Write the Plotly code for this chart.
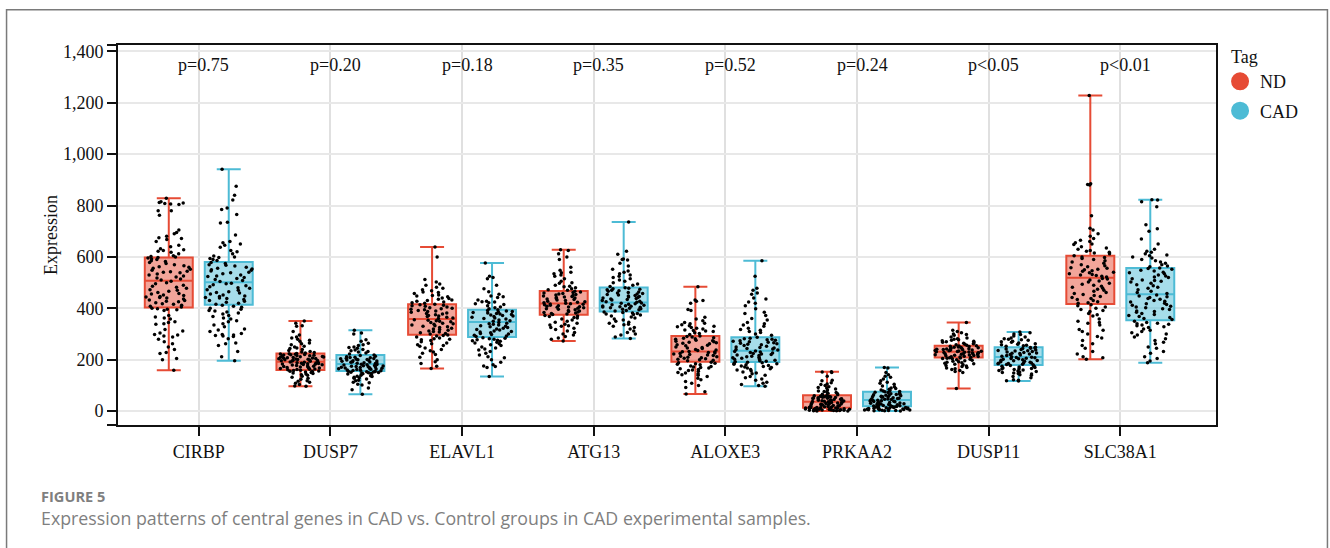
import plotly.graph_objects as go

genes = ["CIRBP", "DUSP7", "ELAVL1", "ATG13", "ALOXE3", "PRKAA2", "DUSP11", "SLC38A1"]
p_labels = ["p=0.75", "p=0.20", "p=0.18", "p=0.35", "p=0.52", "p=0.24", "p<0.05", "p<0.01"]
y_ticks = [0, 200, 400, 600, 800, 1000, 1200, 1400]

nd_low = [159, 97, 166, 273, 67, 0, 88, 202]
nd_q1 = [403, 160, 297, 375, 192, 13, 209, 417]
nd_med = [507, 192, 358, 419, 232, 36, 231, 519]
nd_q3 = [598, 224, 416, 467, 292, 62, 254, 605]
nd_high = [828, 351, 639, 628, 484, 153, 345, 1228]

cad_low = [196, 66, 135, 283, 97, 0, 117, 188]
cad_q1 = [414, 156, 288, 388, 191, 19, 179, 354]
cad_med = [501, 183, 347, 423, 235, 43, 211, 455]
cad_q3 = [580, 218, 394, 481, 287, 75, 249, 557]
cad_high = [941, 315, 576, 736, 585, 170, 308, 823]

nd_cirbp = [828, 815, 810, 808, 806, 804, 812, 780, 780, 762, 705, 695, 690, 680, 675, 672, 668, 660, 645, 640, 632, 628, 625, 622, 618, 612, 605, 602, 600,
            598, 596, 592, 590, 585, 582, 578, 574, 570, 566, 562, 560, 556, 552, 548, 544, 542, 540, 538, 534, 530, 526, 522, 518, 514, 510,
            505, 500, 496, 490, 486, 482, 478, 472, 470, 466, 462, 458, 456, 452, 450, 446, 444, 442, 440, 436, 432, 430, 428, 426, 422, 418, 416, 412, 408, 405,
            400, 398, 396, 394, 392, 372, 366, 362, 358, 348, 345, 340, 338, 318, 312, 304, 298, 296, 292, 288, 280, 270, 262, 250, 240, 228, 224, 205, 200, 159]
cad_cirbp = [941, 875, 840, 822, 790, 785, 765, 735, 732, 685, 660, 655, 650, 645, 638, 625, 620, 612, 604, 600, 598, 594, 590, 586,
             578, 574, 570, 568, 565, 560, 556, 553, 550, 548, 545, 540, 538, 535, 530, 526, 524, 520, 516, 512, 508, 504,
             498, 496, 492, 488, 484, 480, 478, 472, 470, 465, 462, 460, 456, 452, 448, 446, 442, 440, 438, 434, 430, 428, 424, 420, 416,
             412, 408, 404, 400, 396, 392, 390, 386, 382, 378, 372, 368, 362, 358, 352, 348, 340, 335, 328, 320, 316, 310, 302, 298, 296, 294, 292, 290, 282, 265, 262, 255, 232, 212, 196]
nd_dusp7 = [351, 342, 332, 330, 310, 296, 288, 285, 280, 276, 272, 265, 262, 258, 252, 250, 246, 244, 240, 236, 232, 230, 228, 226,
            224, 223, 222, 221, 220, 219, 218, 217, 216, 215, 214, 213, 212, 211, 210, 209, 208, 207, 206, 205, 204, 203, 202, 201, 200, 199, 198, 197, 196, 195, 194,
            191, 190, 189, 188, 187, 186, 185, 184, 183, 182, 181, 180, 179, 178, 176, 175, 174, 172, 171, 170, 168, 167, 166, 164, 163, 162, 161,
            159, 158, 156, 155, 154, 152, 150, 148, 146, 144, 142, 140, 136, 132, 128, 124, 118, 116, 112, 108, 104, 98, 97]
cad_dusp7 = [315, 304, 300, 278, 272, 264, 258, 255, 250, 248, 245, 240, 238, 235, 232, 230, 226, 222,
             218, 216, 214, 212, 210, 209, 208, 206, 205, 204, 202, 201, 200, 199, 198, 196, 195, 194, 192, 191, 190, 188, 187, 186, 185,
             182, 181, 180, 179, 178, 177, 176, 175, 174, 173, 172, 171, 170, 169, 168, 167, 166, 165, 164, 163, 162, 160, 159, 158, 157,
             155, 154, 153, 152, 151, 150, 149, 148, 146, 145, 144, 142, 140, 138, 136, 135, 132, 130, 128, 125, 120, 118, 112, 110, 105, 102, 90, 83, 66]
nd_elavl1 = [639, 600, 512, 502, 495, 490, 482, 478, 472, 468, 464, 462, 458, 452, 450, 448, 445, 440, 438, 435, 432, 430, 428, 425, 422, 420,
             416, 414, 412, 410, 408, 405, 402, 400, 398, 396, 394, 392, 390, 388, 385, 382, 380, 378, 375, 372, 370, 368, 365, 362, 360,
             356, 354, 352, 350, 348, 345, 342, 340, 338, 335, 332, 330, 328, 325, 322, 320, 318, 315, 312, 310, 308, 305, 302, 300,
             296, 294, 292, 288, 285, 282, 280, 278, 275, 270, 265, 262, 258, 255, 252, 246, 240, 235, 230, 225, 220, 210, 200, 192, 185, 175, 166]
cad_elavl1 = [576, 525, 520, 515, 490, 476, 465, 455, 448, 445, 442, 432, 428, 426, 425, 422, 418, 415, 410, 405, 402, 398,
              394, 392, 390, 388, 386, 384, 382, 380, 378, 376, 374, 372, 370, 368, 365, 362, 360, 358, 355, 352, 350,
              345, 342, 340, 338, 335, 332, 330, 328, 325, 322, 320, 318, 316, 312, 310, 308, 305, 302, 300, 298, 295, 292, 290,
              286, 284, 282, 280, 278, 276, 274, 272, 268, 265, 262, 258, 255, 250, 246, 242, 238, 232, 225, 218, 212, 208, 200, 190, 180, 176, 174, 170, 135]
nd_atg13 = [628, 625, 612, 600, 590, 560, 548, 540, 538, 535, 530, 525, 515, 505, 500, 498, 490, 486, 484, 480, 476, 472, 470,
            466, 464, 462, 460, 458, 456, 454, 452, 450, 448, 446, 444, 442, 440, 438, 436, 434, 432, 430, 428, 426, 424, 422, 420,
            418, 417, 416, 414, 412, 410, 408, 406, 405, 404, 402, 400, 398, 396, 394, 392, 390, 388, 386, 384, 382, 380, 378, 376,
            372, 370, 368, 364, 362, 358, 355, 350, 346, 342, 338, 335, 332, 330, 325, 322, 318, 312, 306, 300, 296, 290, 285, 280, 273]
cad_atg13 = [736, 622, 610, 592, 590, 588, 575, 565, 552, 545, 540, 535, 530, 525, 520, 515, 510, 505, 500, 495, 490, 485,
             480, 478, 476, 474, 472, 470, 468, 466, 464, 462, 460, 458, 456, 454, 452, 450, 448, 446, 444, 442, 440, 438, 436, 434, 432, 430, 428, 426, 424,
             421, 420, 418, 416, 414, 412, 410, 409, 408, 406, 405, 404, 402, 400, 398, 396, 394, 392, 390,
             386, 384, 382, 380, 378, 376, 374, 370, 366, 362, 358, 355, 350, 346, 342, 338, 336, 330, 325, 320, 312, 306, 300, 296, 288, 283]
nd_aloxe3 = [484, 432, 430, 428, 420, 395, 392, 365, 358, 352, 345, 342, 340, 336, 332, 330, 328, 325, 322, 320, 316, 314, 312, 310, 305, 302, 298,
             292, 290, 288, 286, 284, 282, 280, 276, 274, 272, 270, 268, 266, 264, 262, 258, 256, 254, 250, 248, 246, 244, 240, 238, 236,
             232, 231, 230, 228, 226, 224, 222, 220, 218, 216, 214, 212, 210, 208, 206, 204, 202, 200, 198, 196,
             190, 188, 186, 184, 182, 180, 176, 174, 172, 170, 168, 165, 162, 160, 158, 155, 150, 148, 145, 142, 140, 135, 128, 122, 115, 108, 100, 92, 75, 67]
cad_aloxe3 = [585, 525, 478, 470, 460, 455, 440, 436, 425, 420, 410, 398, 385, 380, 372, 360, 355, 345, 340, 335, 330, 322, 318, 315, 310, 306, 300, 295,
              287, 284, 282, 280, 278, 276, 274, 272, 270, 268, 266, 264, 262, 260, 258, 255, 252, 250, 248, 246, 244, 242, 240, 238,
              234, 232, 230, 228, 226, 224, 222, 220, 218, 216, 214, 212, 210, 208, 206, 204, 202, 200, 198, 196, 194, 192,
              190, 188, 186, 184, 182, 180, 178, 176, 174, 172, 170, 168, 165, 162, 160, 156, 152, 148, 145, 140, 135, 130, 125, 120, 112, 108, 104, 100, 97]
nd_prkaa2 = [153, 152, 150, 136, 120, 118, 110, 106, 104, 100, 95, 92, 90, 86, 82, 78, 76, 74, 72, 70, 68, 66, 64,
             62, 61, 60, 59, 58, 57, 56, 55, 54, 53, 52, 51, 50, 49, 48, 47, 46, 45, 44, 43, 42, 41, 40, 39, 38, 37,
             36, 35, 34, 33, 32, 31, 30, 29, 28, 27, 26, 25, 24, 23, 22, 21, 20, 19, 18, 17, 16, 15, 14,
             13, 13, 12, 12, 11, 11, 10, 10, 9, 9, 8, 8, 7, 7, 6, 6, 5, 5, 4, 4, 3, 3, 2, 2, 1, 1, 0, 0]
cad_prkaa2 = [170, 168, 150, 142, 136, 132, 125, 118, 112, 108, 105, 98, 95, 90, 88, 85, 82, 80, 78, 76,
              75, 73, 72, 70, 68, 66, 65, 64, 62, 61, 60, 58, 57, 56, 55, 54, 52, 50, 49, 48, 47, 46, 45, 44,
              42, 41, 40, 39, 38, 37, 36, 35, 34, 33, 32, 31, 30, 29, 28, 27, 26, 25, 24, 23, 22, 21, 20,
              18, 18, 17, 16, 15, 14, 14, 13, 12, 12, 11, 10, 10, 9, 8, 8, 7, 6, 6, 5, 5, 4, 4, 3, 2, 2, 1, 1, 0]
nd_dusp11 = [345, 315, 310, 305, 300, 298, 295, 288, 285, 282, 280, 278, 276, 274, 272, 270, 268, 266, 264, 262, 260, 258, 256,
             254, 253, 252, 251, 250, 249, 248, 247, 246, 245, 244, 243, 242, 241, 240, 239, 238, 237, 236, 235, 234, 233, 232,
             231, 230, 229, 228, 227, 226, 225, 224, 223, 222, 221, 220, 219, 218, 217, 216, 215, 214, 213, 212, 211, 210,
             208, 207, 206, 205, 204, 202, 200, 198, 196, 194, 192, 190, 188, 186, 184, 182, 180, 178, 176, 174, 170, 168, 165, 162, 158, 154, 150, 88]
cad_dusp11 = [308, 305, 300, 298, 292, 288, 285, 282, 280, 278, 276, 272, 270, 268, 265, 262, 260, 258, 256, 254, 252,
              249, 248, 246, 245, 244, 242, 240, 238, 236, 235, 234, 232, 230, 228, 226, 225, 224, 222, 220, 218, 216, 214, 212,
              210, 209, 208, 206, 205, 204, 202, 200, 198, 197, 196, 194, 192, 190, 188, 187, 186, 185, 184, 182, 181, 180,
              178, 176, 175, 174, 172, 170, 168, 166, 165, 164, 162, 160, 158, 156, 154, 152, 150, 148, 146, 144, 142, 140, 135, 130, 122, 120, 118, 117]
nd_slc38a1 = [1228, 885, 882, 880, 760, 712, 705, 690, 680, 672, 665, 660, 655, 650, 648, 640, 635, 630, 625, 622, 618, 615, 612,
              605, 600, 598, 594, 590, 585, 580, 575, 570, 566, 562, 558, 556, 552, 550, 546, 544, 540, 538, 535, 532, 530, 528, 525, 522,
              516, 514, 510, 506, 502, 498, 494, 490, 486, 482, 478, 474, 470, 466, 462, 458, 454, 450, 446, 442, 438, 434, 430, 426, 422, 420,
              414, 410, 405, 400, 395, 392, 388, 380, 375, 370, 358, 350, 345, 342, 335, 318, 315, 310, 300, 290, 285, 275, 262, 255, 245, 232, 222, 212, 208, 202]
cad_slc38a1 = [823, 822, 815, 795, 725, 710, 700, 670, 650, 630, 622, 618, 612, 608, 605, 600, 596, 590, 585, 580, 575, 570, 565, 562,
               557, 555, 552, 548, 545, 540, 538, 535, 530, 526, 522, 520, 515, 510, 508, 505, 502, 498, 492, 488, 482, 478, 472, 466, 462, 458,
               452, 448, 445, 442, 438, 435, 430, 428, 425, 420, 418, 415, 412, 408, 405, 402, 398, 395, 390, 388, 385, 380, 376, 372, 368, 364, 360, 357,
               350, 345, 342, 340, 338, 335, 332, 328, 325, 320, 315, 310, 305, 300, 296, 288, 282, 275, 268, 262, 250, 245, 232, 225, 212, 205, 195, 188]

nd_points = [nd_cirbp, nd_dusp7, nd_elavl1, nd_atg13, nd_aloxe3, nd_prkaa2, nd_dusp11, nd_slc38a1]
cad_points = [cad_cirbp, cad_dusp7, cad_elavl1, cad_atg13, cad_aloxe3, cad_prkaa2, cad_dusp11, cad_slc38a1]

RED = "#E64B35"
BLUE = "#4DBBD5"
SERIF = "Liberation Serif"
INK = "#111111"

fig = go.Figure()


def add_group(name, color, fill, low, q1, med, q3, high, points):
    fig.add_trace(go.Box(
        name=name, x=genes, y=points,
        lowerfence=low, q1=q1, median=med, q3=q3, upperfence=high,
        boxpoints="all", jitter=1, pointpos=0, whiskerwidth=0.5,
        line=dict(color=color, width=2), fillcolor=fill,
        marker=dict(color="#000000", size=3.5, line=dict(width=0)),
        showlegend=False, legendgroup=name,
    ))
    fig.add_trace(go.Scatter(
        name=name, x=[None], y=[None], mode="markers", legendgroup=name,
        marker=dict(color=color, size=16, line=dict(color=color, width=2)),
    ))


add_group("ND", RED, "rgba(230,75,53,0.5)", nd_low, nd_q1, nd_med, nd_q3, nd_high, nd_points)
add_group("CAD", BLUE, "rgba(77,187,213,0.5)", cad_low, cad_q1, cad_med, cad_q3, cad_high, cad_points)

for gene, label in zip(genes, p_labels):
    fig.add_annotation(x=gene, y=1345, text=label, showarrow=False, xshift=5,
                       font=dict(family=SERIF, size=18, color=INK))

fig.add_annotation(xref="paper", yref="paper", x=-0.0721, y=-0.1875, xanchor="left", yanchor="middle",
                   text="<b>FIGURE 5</b>", showarrow=False,
                   font=dict(family="Open Sans", size=14.6, color="#7f7f7f"))
fig.add_annotation(xref="paper", yref="paper", x=-0.0721, y=-0.246, xanchor="left", yanchor="middle",
                   text="Expression patterns of central genes in CAD vs. Control groups in CAD experimental samples.",
                   showarrow=False, font=dict(family="Open Sans", size=17.8, color="#7f7f7f"))

fig.add_shape(type="rect", xref="paper", yref="paper", x0=-0.1015, x1=1.1015, y0=-0.5, y1=1.0925,
              line=dict(color="#7a7a7a", width=1.5), layer="below")

fig.update_layout(
    width=1330, height=548, autosize=False,
    margin=dict(l=117.5, r=113.5, t=44.7, b=123),
    paper_bgcolor="white", plot_bgcolor="white",
    boxmode="group", boxgap=0.089, boxgroupgap=0.2,
    font=dict(family=SERIF, size=18, color=INK),
    legend=dict(x=1.0037, y=1.014, xanchor="left", yanchor="top", tracegroupgap=3,
                title=dict(text="\u00a0\u00a0Tag", font=dict(family=SERIF, size=18, color=INK)),
                font=dict(family=SERIF, size=18, color=INK), bgcolor="rgba(0,0,0,0)"),
    xaxis=dict(type="category", categoryorder="array", categoryarray=genes,
               range=[-0.6135, 7.727], showgrid=True, gridcolor="#e0e0e0", gridwidth=1.5,
               ticks="outside", ticklen=9, tickwidth=2, tickcolor="#111111",
               showline=True, linecolor="#111111", linewidth=2, mirror=True, zeroline=False,
               tickfont=dict(family=SERIF, size=18, color=INK)),
    yaxis=dict(range=[-54, 1424.7], tickvals=[-54] + y_ticks + [1424.7],
               ticktext=[""] + [f"{v:,}" for v in y_ticks] + [""],
               showgrid=True, gridcolor="#e8e8e8", gridwidth=1.5,
               ticks="outside", ticklen=9, tickwidth=2, tickcolor="#111111",
               showline=True, linecolor="#111111", linewidth=2, mirror=True, zeroline=False,
               title=dict(text="Expression", font=dict(family=SERIF, size=18, color=INK), standoff=1),
               tickfont=dict(family=SERIF, size=18, color=INK)),
)

fig.write_html("out.html", config={"displayModeBar": False},
               post_script="document.body.style.margin='0';document.body.style.overflow='hidden';")
